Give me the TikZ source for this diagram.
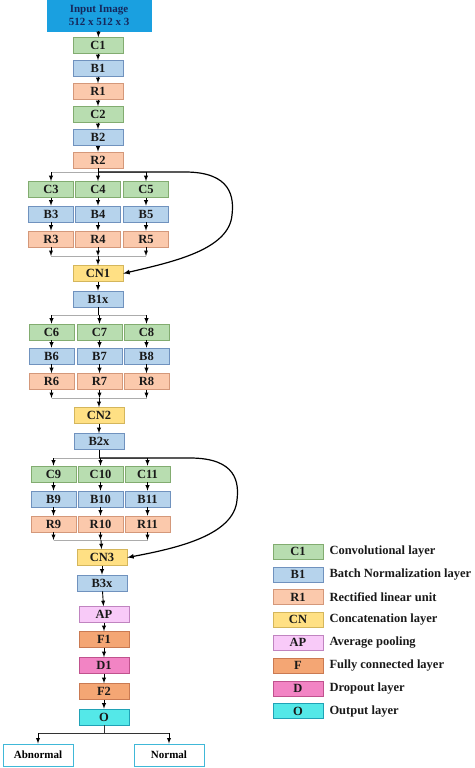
\documentclass[tikz,border=0pt]{standalone}
\usepackage{fontspec}
\setmainfont{Liberation Serif}
\usetikzlibrary{arrows}

\definecolor{convgreen}{RGB}{184,221,176}
\definecolor{convedge}{RGB}{130,172,112}
\definecolor{bnblue}{RGB}{182,211,236}
\definecolor{bnedge}{RGB}{112,146,190}
\definecolor{relusalmon}{RGB}{251,201,172}
\definecolor{reluedge}{RGB}{212,152,122}
\definecolor{catyellow}{RGB}{255,224,132}
\definecolor{catedge}{RGB}{212,182,92}
\definecolor{poolpink}{RGB}{248,202,248}
\definecolor{pooledge}{RGB}{192,132,192}
\definecolor{fcorange}{RGB}{244,166,116}
\definecolor{fcedge}{RGB}{202,122,82}
\definecolor{droppink}{RGB}{242,132,196}
\definecolor{dropedge}{RGB}{192,82,142}
\definecolor{outcyan}{RGB}{84,232,232}
\definecolor{outedge}{RGB}{32,162,182}
\definecolor{inblue}{RGB}{26,160,224}
\definecolor{innavy}{RGB}{22,40,92}
\definecolor{linkgray}{RGB}{172,172,172}
\definecolor{classedge}{RGB}{64,184,216}

\begin{document}
\begin{tikzpicture}[x=1pt, y=-1pt,
    layer/.style={draw, line width=0.6pt, inner sep=0pt, minimum width=50pt,
        minimum height=16pt, text=black!90,
        font=\fontsize{12.5}{14}\selectfont\bfseries},
    sub/.style={minimum width=45pt},
    convbox/.style={layer, fill=convgreen, draw=convedge},
    bnbox/.style={layer, fill=bnblue, draw=bnedge},
    relubox/.style={layer, fill=relusalmon, draw=reluedge},
    catbox/.style={layer, fill=catyellow, draw=catedge},
    poolbox/.style={layer, fill=poolpink, draw=pooledge},
    fcbox/.style={layer, fill=fcorange, draw=fcedge},
    dropbox/.style={layer, fill=droppink, draw=dropedge},
    outbox/.style={layer, fill=outcyan, draw=outedge},
    classbox/.style={draw=classedge, line width=1pt, fill=white, inner sep=0pt,
        minimum width=70pt, minimum height=22pt,
        font=\fontsize{11}{13}\selectfont\bfseries},
    arr/.style={-latex, line width=0.9pt},
    graylink/.style={draw=linkgray, line width=0.8pt},
    loopline/.style={-latex, line width=1.2pt},
    keytext/.style={anchor=west, inner sep=0pt, text=black!90,
        font=\fontsize{12.5}{14}\selectfont\bfseries}]

    \useasboundingbox (0,0) rectangle (474,768);

    % stem
    \node[draw=inblue, fill=inblue, inner sep=0pt, minimum width=104pt, minimum height=31pt,
        align=center, text=innavy, font=\fontsize{11}{12.5}\selectfont\bfseries]
        (input) at (99,15.5) {Input Image\\512 x 512 x 3};
    \node[convbox] (C1) at (98,45.5) {C1};
    \node[bnbox]   (B1) at (98,68.5) {B1};
    \node[relubox] (R1) at (98,91.5) {R1};
    \node[convbox] (C2) at (98,114.5) {C2};
    \node[bnbox]   (B2) at (98,137.5) {B2};
    \node[relubox] (R2) at (98,160) {R2};
    \draw[arr] (input) -- (C1);
    \draw[arr] (C1) -- (B1);
    \draw[arr] (B1) -- (R1);
    \draw[arr] (R1) -- (C2);
    \draw[arr] (C2) -- (B2);
    \draw[arr] (B2) -- (R2);

    % first block
    \node[convbox, sub] (C3) at (51,189.5) {C3};
    \node[convbox, sub] (C4) at (98,189.5) {C4};
    \node[convbox, sub] (C5) at (146,189.5) {C5};
    \node[bnbox, sub]   (B3) at (51,214) {B3};
    \node[bnbox, sub]   (B4) at (98,214) {B4};
    \node[bnbox, sub]   (B5) at (146,214) {B5};
    \node[relubox, sub] (R3) at (51,239) {R3};
    \node[relubox, sub] (R4) at (98,239) {R4};
    \node[relubox, sub] (R5) at (146,239) {R5};
    \node[catbox] (CN1) at (98,273.5) {CN1};
    \node[bnbox]  (B1x) at (98,299) {B1x};
    \coordinate (s1) at (98,172);
    \coordinate (m1) at (98,256);
    \draw[line width=0.8pt] (R2) -- (s1);
    \draw[graylink] (C3|-s1) -- (C5|-s1);
    \draw[graylink] (R3|-m1) -- (R5|-m1);
    \foreach \a/\b/\c in {C3/B3/R3, C4/B4/R4, C5/B5/R5}{
        \draw[arr] (\a|-s1) -- (\a);
        \draw[arr] (\a) -- (\b);
        \draw[arr] (\b) -- (\c);
        \draw[arr] (\c) -- (\c|-m1);
    }
    \draw[arr] (m1) -- (CN1);
    \draw[arr] (CN1) -- (B1x);
    \draw[loopline] (s1) -- (185,172) .. controls (232,172) and (234,198) .. (232,215)
        .. controls (229,250) and (172,262) .. (CN1.east);

    % second block
    \node[convbox, sub] (C6) at (51.5,332) {C6};
    \node[convbox, sub] (C7) at (99.5,332) {C7};
    \node[convbox, sub] (C8) at (146.5,332) {C8};
    \node[bnbox, sub]   (B6) at (51.5,356) {B6};
    \node[bnbox, sub]   (B7) at (99.5,356) {B7};
    \node[bnbox, sub]   (B8) at (146.5,356) {B8};
    \node[relubox, sub] (R6) at (51.5,381.5) {R6};
    \node[relubox, sub] (R7) at (99.5,381.5) {R7};
    \node[relubox, sub] (R8) at (146.5,381.5) {R8};
    \node[catbox] (CN2) at (99,415.5) {CN2};
    \node[bnbox]  (B2x) at (99,441.5) {B2x};
    \coordinate (s2) at (98,315);
    \coordinate (m2) at (99,398);
    \draw[line width=0.8pt] (B1x) -- (s2);
    \draw[graylink] (C6|-s2) -- (C8|-s2);
    \draw[graylink] (R6|-m2) -- (R8|-m2);
    \foreach \a/\b/\c in {C6/B6/R6, C7/B7/R7, C8/B8/R8}{
        \draw[arr] (\a|-s2) -- (\a);
        \draw[arr] (\a) -- (\b);
        \draw[arr] (\b) -- (\c);
        \draw[arr] (\c) -- (\c|-m2);
    }
    \draw[arr] (m2) -- (CN2);
    \draw[arr] (CN2) -- (B2x);

    % third block
    \node[convbox, sub] (C9) at (53.5,474) {C9};
    \node[convbox, sub] (C10) at (100.5,474) {C10};
    \node[convbox, sub] (C11) at (147.5,474) {C11};
    \node[bnbox, sub]   (B9) at (53.5,499) {B9};
    \node[bnbox, sub]   (B10) at (100.5,499) {B10};
    \node[bnbox, sub]   (B11) at (147.5,499) {B11};
    \node[relubox, sub] (R9) at (53.5,524) {R9};
    \node[relubox, sub] (R10) at (100.5,524) {R10};
    \node[relubox, sub] (R11) at (147.5,524) {R11};
    \node[catbox] (CN3) at (102,557.5) {CN3};
    \node[bnbox]  (B3x) at (102,583) {B3x};
    \coordinate (s3) at (99,458);
    \coordinate (m3) at (101,540);
    \draw[line width=0.8pt] (B2x) -- (s3);
    \draw[graylink] (C9|-s3) -- (C11|-s3);
    \draw[graylink] (R9|-m3) -- (R11|-m3);
    \foreach \a/\b/\c in {C9/B9/R9, C10/B10/R10, C11/B11/R11}{
        \draw[arr] (\a|-s3) -- (\a);
        \draw[arr] (\a) -- (\b);
        \draw[arr] (\b) -- (\c);
        \draw[arr] (\c) -- (\c|-m3);
    }
    \draw[arr] (m3) -- (CN3);
    \draw[arr] (CN3) -- (B3x);
    \draw[loopline] (s3) -- (190,458) .. controls (237,458) and (239,483) .. (237,500)
        .. controls (234,535) and (178,548) .. (CN3.east);

    % head
    \node[poolbox] (AP) at (104,614.5) {AP};
    \node[fcbox]   (F1) at (104,639.5) {F1};
    \node[dropbox] (D1) at (104,665.5) {D1};
    \node[fcbox]   (F2) at (104,691.5) {F2};
    \node[outbox]  (O)  at (104,717) {O};
    \node[classbox] (abnormal) at (38,755) {Abnormal};
    \node[classbox] (normal) at (169,755) {Normal};
    \draw[arr] (B3x) -- (AP);
    \draw[arr] (AP) -- (F1);
    \draw[arr] (F1) -- (D1);
    \draw[arr] (D1) -- (F2);
    \draw[arr] (F2) -- (O);
    \coordinate (o1) at (104,733);
    \draw[line width=0.8pt, black!80] (O) -- (o1);
    \draw[line width=0.8pt, black!80] (abnormal|-o1) -- (normal|-o1);
    \draw[arr] (abnormal|-o1) -- (abnormal);
    \draw[arr] (normal|-o1) -- (normal);

    % legend
    \foreach \lab/\sty/\desc [count=\i] in {C1/convbox/Convolutional layer,
        B1/bnbox/Batch Normalization layer, R1/relubox/Rectified linear unit,
        CN/catbox/Concatenation layer, AP/poolbox/Average pooling,
        F/fcbox/Fully connected layer, D/dropbox/Dropout layer, O/outbox/Output layer}{
        \node[\sty, minimum height=15pt] (key\i) at (298,{551.5+22.8*(\i-1)}) {\lab};
        \node[keytext] (keytext\i) at ([xshift=6pt]key\i.east) {\desc};
    }
\end{tikzpicture}
\end{document}
